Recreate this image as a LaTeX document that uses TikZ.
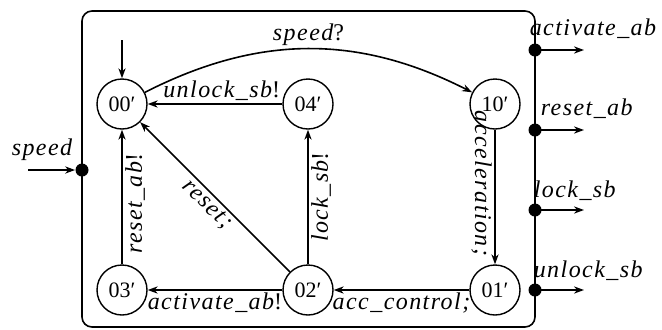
\documentclass[tikz,border=0pt]{standalone}
\usepackage{fontspec}
\setmainfont{Liberation Serif}
\newfontfamily\lblfont{Liberation Serif}[LetterSpace=6]
\usetikzlibrary{arrows.meta}
\newcommand\pu[1]{{\upshape #1}}
\begin{document}
\begin{tikzpicture}[x=0.5pt,y=0.5pt,
  st/.style={circle,draw,line width=0.7pt,minimum size=25pt,inner sep=0pt,font=\fontsize{11}{12}\selectfont},
  tr/.style={-{Stealth[length=5pt,width=3.6pt]},line width=0.8pt},
  lb/.style={font=\fontsize{12}{14}\selectfont\lblfont\itshape, inner sep=1.2pt},
  dot/.style={circle,fill,inner sep=0pt,minimum size=6.5pt}]
\useasboundingbox (0,0) rectangle (662,329);
\draw[line width=0.8pt, rounded corners=5pt] (82,2) rectangle (535,318);
% states
\node[st] (n00) at (122,225) {00′};
\node[st] (n04) at (308,225) {04′};
\node[st] (n10) at (495,225) {10′};
\node[st] (n03) at (122,39) {03′};
\node[st] (n02) at (308,39) {02′};
\node[st] (n01) at (495,39) {01′};
% initial
\coordinate (init) at (122,289);
\draw[tr] (init) -- (n00);
% transitions
\draw[tr] (n00) to[out=27,in=153] node[lb,above,pos=0.5]{speed\pu{?}} (n10);
\draw[tr] (n04) -- node[lb,above,pos=0.45]{unlock\_sb\pu{!}} (n00);
\draw[tr] (n10) -- node[lb,rotate=-90,anchor=north,pos=0.4]{acceleration;} (n01);
\draw[tr] (n01) -- node[lb,below,pos=0.5]{acc\_control;} (n02);
\draw[tr] (n02) -- node[lb,below,pos=0.5]{activate\_ab\pu{!}} (n03);
\draw[tr] (n02) -- node[lb,rotate=90,anchor=north,pos=0.5]{lock\_sb\pu{!}} (n04);
\draw[tr] (n03) -- node[lb,rotate=90,anchor=north,pos=0.45]{reset\_ab\pu{!}} (n00);
\draw[tr] (n02) -- node[lb,rotate=-45,anchor=north,pos=0.5]{reset;} (n00);
% input
\node[dot] (din) at (82,159) {};
\coordinate (src) at (28,159);
\draw[tr] (src) -- (din);
\node[lb,anchor=base] (lin) at (42,174) {speed};
% outputs
\node[dot] (d1) at (535,279) {};
\node[dot] (d2) at (535,199) {};
\node[dot] (d3) at (535,119) {};
\node[dot] (d4) at (535,39) {};
\coordinate (o1) at (584,279);
\coordinate (o2) at (584,199);
\coordinate (o3) at (584,119);
\coordinate (o4) at (584,39);
\draw[tr] (d1.center) -- (o1);
\draw[tr] (d2.center) -- (o2);
\draw[tr] (d3.center) -- (o3);
\draw[tr] (d4.center) -- (o4);
\node[lb,anchor=base west] (l1) at (527,294) {activate\_ab};
\node[lb,anchor=base west] (l2) at (538,214) {reset\_ab};
\node[lb,anchor=base west] (l3) at (531,132) {lock\_sb};
\node[lb,anchor=base west] (l4) at (531,52) {unlock\_sb};
\end{tikzpicture}
\end{document}
